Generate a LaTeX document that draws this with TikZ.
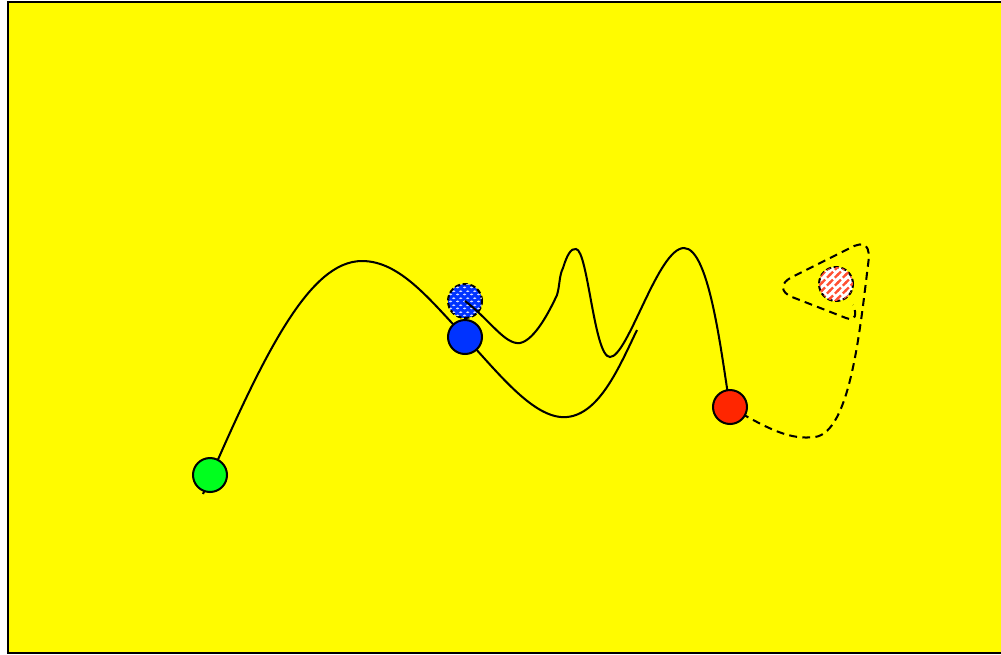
\documentclass[tikz,border=0pt]{standalone}
\usepackage{xcolor}
\usepackage{tikz}
\usetikzlibrary{patterns}
\definecolor{bgyellow}{RGB}{255,251,0}
\definecolor{ballgreen}{RGB}{0,255,30}
\definecolor{ballblue}{RGB}{0,51,255}
\definecolor{ballred}{RGB}{255,38,0}
\pgfdeclarepatternformonly{widestripes}{\pgfqpoint{-1pt}{-1pt}}{\pgfqpoint{5.5pt}{5.5pt}}{\pgfqpoint{4.5pt}{4.5pt}}{%
  \pgfsetlinewidth{1.3pt}
  \pgfpathmoveto{\pgfqpoint{-0.5pt}{-0.5pt}}\pgfpathlineto{\pgfqpoint{5pt}{5pt}}
  \pgfusepath{stroke}}
\pgfdeclarepatternformonly{softdots}{\pgfqpoint{0pt}{0pt}}{\pgfqpoint{4pt}{4pt}}{\pgfqpoint{4pt}{4pt}}{%
  \pgfpathellipse{\pgfqpoint{1pt}{1pt}}{\pgfqpoint{1.1pt}{0pt}}{\pgfqpoint{0pt}{0.6pt}}
  \pgfpathellipse{\pgfqpoint{3pt}{3pt}}{\pgfqpoint{1.1pt}{0pt}}{\pgfqpoint{0pt}{0.6pt}}
  \pgfusepath{fill}}

\begin{document}
\begin{tikzpicture}[x=0.02cm, y=-0.02cm, line width=1.15pt,
  ball/.style={draw, circle, minimum size=0.68cm, inner sep=0pt, line width=1.15pt},
  ghost/.style={ball, dash pattern=on 3pt off 1.5pt},
  track/.style={line width=1.15pt}]
\useasboundingbox (0,0) rectangle (1001,654);
\draw[fill=bgyellow, line width=1.3pt] (8,2) rectangle (1010,653);
\node[ghost, fill=ballblue, postaction={pattern=softdots, pattern color=white!85!ballblue}] (bluehatch) at (465,301) {};
\node[ghost, fill=white, postaction={pattern=widestripes, pattern color=ballred!80!white}] (redhatch) at (836,284) {};
\coordinate (tail) at (203,494);
\coordinate (cut) at (637,330);
\draw[track] (tail) .. controls (265,350) and (310,261) .. (362,261)
  .. controls (400,261) and (430,300) .. (465,337)
  .. controls (500,375) and (535,420) .. (567,417)
  .. controls (600,414) and (620,365) .. (cut);
\draw[track] (bluehatch.center) .. controls (490,320) and (505,345) .. (520,343)
  .. controls (535,340) and (550,310) .. (557,295)
  .. controls (560,285) and (559,276) .. (563,268)
  .. controls (567,255) and (571,248) .. (576,249)
  .. controls (588,250) and (594,357) .. (610,357)
  .. controls (628,357) and (658,248) .. (684,248)
  .. controls (710,248) and (722,360) .. (730,407);
\draw[track, dash pattern=on 4.5pt off 3pt] (730,407) .. controls (770,430) and (790,440) .. (815,437)
  .. controls (850,432) and (860,330) .. (868,265)
  .. controls (871,245) and (865,240) .. (850,248) -- (792,277)
  .. controls (780,283) and (780,292) .. (792,297) -- (846,318)
  .. controls (856,322) and (857,314) .. (853,305);
\node[ball, fill=ballgreen] (start) at (210,475) {};
\node[ball, fill=ballblue] (bluedot) at (465,337) {};
\node[ball, fill=ballred] (reddot) at (730,407) {};
\end{tikzpicture}
\end{document}
